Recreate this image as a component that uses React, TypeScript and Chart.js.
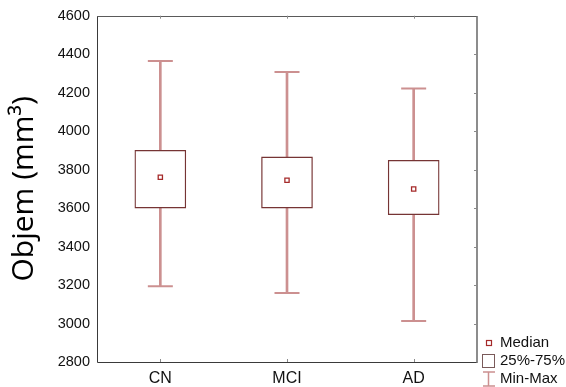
import React, { useEffect, useRef } from "react";
import { Chart, registerables } from "chart.js";

Chart.register(...registerables);

const categories = ["CN", "MCI", "AD"];
const minValues = [3194, 3158, 3013];
const q1Values = [3600, 3600, 3566];
const medianValues = [3760, 3745, 3699];
const q3Values = [3900, 3866, 3848];
const maxValues = [4364, 4307, 4221];
const yMin = 2800;
const yMax = 4600;
const yStep = 200;
const legendLabels = ["Median", "25%-75%", "Min-Max"];

const whiskerColor = "#cc9090";
const boxColor = "#763434";
const medianColor = "#a52a2a";

const framePlugin = {
  id: "frameAndLegend",
  afterDraw(chart: any) {
    const { ctx, chartArea, scales } = chart;
    const { left, right, top, bottom } = chartArea;
    ctx.save();
    // frame
    ctx.lineWidth = 1;
    ctx.strokeStyle = "#3a3a3a";
    ctx.beginPath();
    ctx.moveTo(Math.round(left) + 0.5, Math.round(top));
    ctx.lineTo(Math.round(left) + 0.5, Math.round(bottom) + 0.5);
    ctx.lineTo(Math.round(right), Math.round(bottom) + 0.5);
    ctx.stroke();
    ctx.strokeStyle = "#5a5a5a";
    ctx.beginPath();
    ctx.moveTo(Math.round(left), Math.round(top) + 0.5);
    ctx.lineTo(Math.round(right), Math.round(top) + 0.5);
    ctx.stroke();
    ctx.lineWidth = 1.6;
    ctx.strokeStyle = "#707070";
    ctx.beginPath();
    ctx.moveTo(Math.round(right), Math.round(top));
    ctx.lineTo(Math.round(right), Math.round(bottom) + 1);
    ctx.stroke();
    // inward ticks
    ctx.lineWidth = 1;
    ctx.strokeStyle = "#8a8a8a";
    const xs = scales.x;
    const ys = scales.y;
    categories.forEach((_, i) => {
      const x = Math.round(xs.getPixelForValue(i)) + 0.5;
      ctx.beginPath();
      ctx.moveTo(x, top);
      ctx.lineTo(x, top + 3);
      ctx.moveTo(x, bottom);
      ctx.lineTo(x, bottom - 3);
      ctx.stroke();
    });
    for (let v = yMin + yStep; v < yMax; v += yStep) {
      const y = Math.round(ys.getPixelForValue(v)) + 0.5;
      ctx.beginPath();
      ctx.moveTo(right, y);
      ctx.lineTo(right - 3, y);
      ctx.stroke();
    }
    // legend
    const cx = right + 12;
    const tx = right + 23;
    ctx.font = "15px 'Liberation Sans', Arial, sans-serif";
    ctx.fillStyle = "#111";
    ctx.textBaseline = "middle";
    ctx.textAlign = "left";
    const y1 = bottom - 19;
    const y2 = bottom - 1;
    const y3 = bottom + 17;
    ctx.fillText(legendLabels[0], tx, y1);
    ctx.fillText(legendLabels[1], tx, y2);
    ctx.fillText(legendLabels[2], tx, y3);
    // median icon
    ctx.strokeStyle = medianColor;
    ctx.lineWidth = 1.2;
    ctx.fillStyle = "#fff";
    ctx.fillRect(cx - 2.5, y1 - 2.5, 5, 5);
    ctx.strokeRect(cx - 2.5, y1 - 2.5, 5, 5);
    // box icon
    ctx.strokeStyle = "#7a5a5a";
    ctx.lineWidth = 1;
    ctx.strokeRect(cx - 6.5, y2 - 6.5, 12, 13);
    // min-max icon
    ctx.strokeStyle = whiskerColor;
    ctx.lineWidth = 1.5;
    ctx.beginPath();
    ctx.moveTo(cx - 6, y3 - 7);
    ctx.lineTo(cx + 6, y3 - 7);
    ctx.moveTo(cx - 0.5, y3 - 7);
    ctx.lineTo(cx - 0.5, y3 + 7);
    ctx.moveTo(cx - 6, y3 + 7);
    ctx.lineTo(cx + 6, y3 + 7);
    ctx.stroke();
    ctx.restore();
  },
};

export default function App() {
  const canvasRef = useRef<HTMLCanvasElement | null>(null);

  useEffect(() => {
    if (!canvasRef.current) return;
    const chart = new Chart(canvasRef.current, {
      type: "bar",
      data: {
        labels: categories,
        datasets: [
          {
            type: "line",
            label: "Median",
            data: medianValues,
            showLine: false,
            pointStyle: "rect",
            pointRadius: 3,
            pointBorderWidth: 1.3,
            pointBorderColor: medianColor,
            pointBackgroundColor: "#ffffff",
            borderColor: medianColor,
            order: 0,
          } as any,
          {
            type: "bar",
            label: "25%-75%",
            data: categories.map((_, i) => [q1Values[i], q3Values[i]]),
            backgroundColor: "#ffffff",
            borderColor: boxColor,
            borderWidth: 1.3,
            borderSkipped: false,
            barThickness: 51,
            grouped: false,
            order: 1,
          } as any,
          {
            type: "line",
            label: "Max",
            data: maxValues,
            showLine: false,
            pointStyle: "line",
            pointRadius: 12.5,
            pointBorderWidth: 2,
            pointBorderColor: whiskerColor,
            borderColor: whiskerColor,
            order: 2,
          } as any,
          {
            type: "line",
            label: "Min",
            data: minValues,
            showLine: false,
            pointStyle: "line",
            pointRadius: 12.5,
            pointBorderWidth: 2,
            pointBorderColor: whiskerColor,
            borderColor: whiskerColor,
            order: 2,
          } as any,
          {
            type: "bar",
            label: "Min-Max",
            data: categories.map((_, i) => [minValues[i], maxValues[i]]),
            backgroundColor: whiskerColor,
            borderWidth: 0,
            barThickness: 2,
            grouped: false,
            order: 3,
          } as any,
        ],
      },
      options: {
        animation: false,
        responsive: true,
        maintainAspectRatio: false,
        events: [],
        layout: { padding: { left: 0, top: 15, right: 89, bottom: 0 } },
        plugins: {
          legend: { display: false },
          tooltip: { enabled: false },
        },
        scales: {
          x: {
            type: "category",
            offset: true,
            grid: { display: false, drawTicks: false },
            border: { display: false },
            ticks: {
              color: "#111",
              font: { family: "'Liberation Sans', Arial, sans-serif", size: 16 },
              padding: 7,
            },
            afterFit(scale: any) {
              scale.height = 25;
            },
          },
          y: {
            type: "linear",
            min: yMin,
            max: yMax,
            grid: { display: false, drawTicks: false },
            border: { display: false },
            ticks: {
              stepSize: yStep,
              color: "#111",
              font: { family: "'Liberation Sans', Arial, sans-serif", size: 14.5 },
              padding: 7,
              callback: (v: any) => String(v),
            },
            title: {
              display: true,
              text: "Objem (mm³)",
              color: "#000",
              font: { family: "'Open Sans', sans-serif", size: 30 },
              padding: { top: 6, bottom: 0 },
            },
            afterFit(scale: any) {
              scale.width = 97;
            },
          },
        },
      },
      plugins: [framePlugin],
    } as any);
    return () => chart.destroy();
  }, []);

  return (
    <div style={{ position: "absolute", left: 0, top: 0, width: 566, height: 387, background: "#fff" }}>
      <canvas ref={canvasRef} />
    </div>
  );
}
